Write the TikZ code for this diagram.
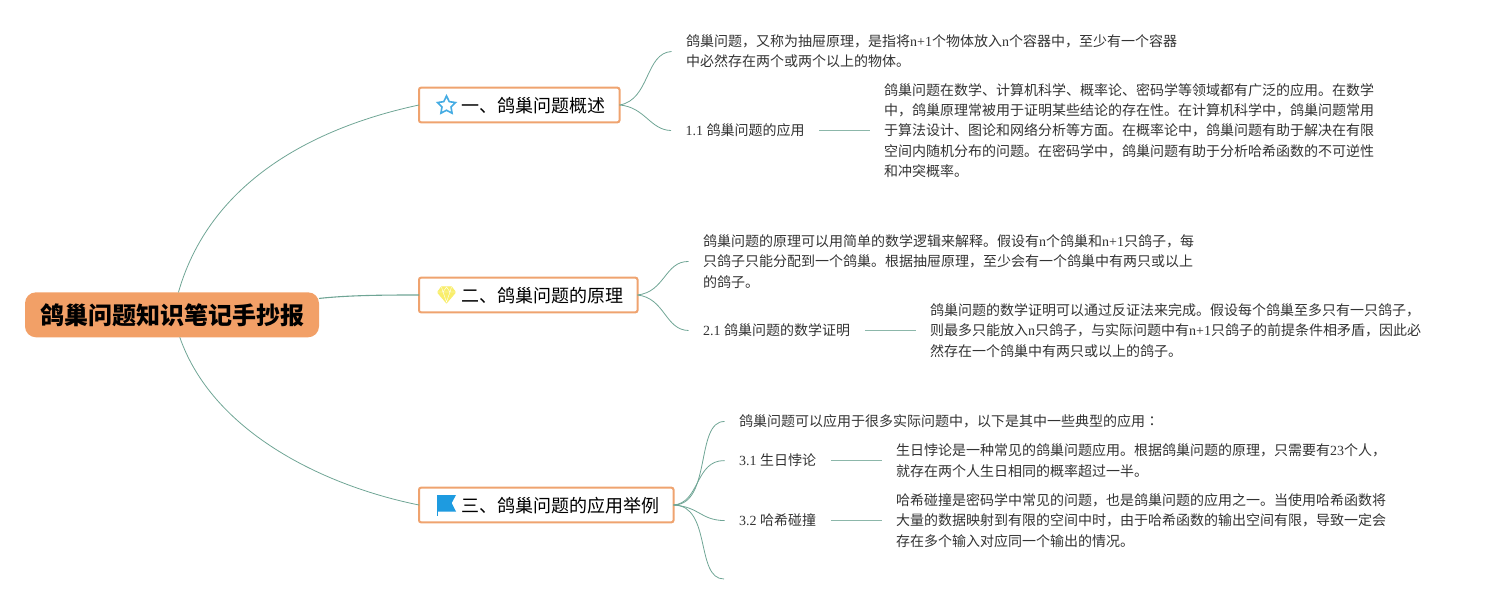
\documentclass[tikz,border=0pt]{standalone}
\usepackage{fontspec}
\setmainfont{Noto Sans CJK SC}
\newfontfamily\latnf{Liberation Serif}
\newfontfamily\tcf{Noto Sans CJK TC}
\newcommand{\latn}[1]{{\latnf #1}}
\usetikzlibrary{shapes.geometric}
\definecolor{linkc}{HTML}{6FA595}
\definecolor{orangec}{HTML}{F2A067}
\definecolor{edgec}{HTML}{EFA36F}
\definecolor{txtc}{HTML}{333333}
\definecolor{bluec}{HTML}{1E9BE0}
\definecolor{starc}{HTML}{45ACE3}
\definecolor{gemc}{HTML}{F9EE6B}
\tikzset{
  rootbox/.style={fill=orangec,draw=none,rounded corners=11pt,minimum width=294pt,minimum height=45pt,inner sep=0pt,outer sep=0pt,font=\fontsize{24}{28}\selectfont\bfseries,text=black},
  branchbox/.style={fill=white,draw=edgec,line width=2pt,rounded corners=2pt,anchor=west,minimum height=34.6pt,inner sep=0pt,outer sep=0pt,font=\fontsize{18}{22}\selectfont,text=black},
  leafbox/.style={anchor=west,inner xsep=14.5pt,inner ysep=0pt,align=left,text=txtc,font=\fontsize{14}{20.3}\selectfont},
  link/.style={draw=linkc,line width=0.8pt},
  stub/.style={draw=linkc!80,line width=1.1pt}
}
\newcommand{\branchtext}[1]{\hspace*{42pt}\raisebox{-7.6pt}[0pt][0pt]{#1}\hspace*{14.5pt}}
\begin{document}
\begin{tikzpicture}[x=1pt,y=-1pt]
\useasboundingbox (0,0) rectangle (1490,605);
\node[rootbox] (root) at (172,314.8) {\raisebox{-10pt}[0pt][0pt]{鸽巢问题知识笔记手抄报}};
\node[branchbox] (n1) at (419,105) {\branchtext{一、鸽巢问题概述}};
\node[branchbox] (n2) at (419,295) {\branchtext{二、鸽巢问题的原理}};
\node[branchbox] (n3) at (419,505) {\branchtext{三、鸽巢问题的应用举例}};

\node[leafbox] (a1) at (671.5,51.5) {鸽巢问题，又称为抽屉原理，是指将\latn{n+1}个物体放入\latn{n}个容器中，至少有一个容器\\中必然存在两个或两个以上的物体。};
\node[leafbox] (a2) at (671,130.5) {\latn{1.1 }鸽巢问题的应用};
\node[leafbox] (a3) at (869.5,130.5) {鸽巢问题在数学、计算机科学、概率论、密码学等领域都有广泛的应用。在数学\\中，鸽巢原理常被用于证明某些结论的存在性。在计算机科学中，鸽巢问题常用\\于算法设计、图论和网络分析等方面。在概率论中，鸽巢问题有助于解决在有限\\空间内随机分布的问题。在密码学中，鸽巢问题有助于分析哈希函数的不可逆性\\和冲突概率。};

\node[leafbox] (b1) at (688.5,261.5) {鸽巢问题的原理可以用简单的数学逻辑来解释。假设有\latn{n}个鸽巢和\latn{n+1}只鸽子，每\\只鸽子只能分配到一个鸽巢。根据抽屉原理，至少会有一个鸽巢中有两只或以上\\的鸽子。};
\node[leafbox] (b2) at (688.5,330.5) {\latn{2.1 }鸽巢问题的数学证明};
\node[leafbox] (b3) at (915.5,330.5) {鸽巢问题的数学证明可以通过反证法来完成。假设每个鸽巢至多只有一只鸽子，\\则最多只能放入\latn{n}只鸽子，与实际问题中有\latn{n+1}只鸽子的前提条件相矛盾，因此必\\然存在一个鸽巢中有两只或以上的鸽子。};

\node[leafbox] (c1) at (724.5,421.5) {鸽巢问题可以应用于很多实际问题中，以下是其中一些典型的应用{\tcf ：}};
\node[leafbox] (c2) at (724.5,460.6) {\latn{3.1 }生日悖论};
\node[leafbox] (c3) at (881.5,460.6) {生日悖论是一种常见的鸽巢问题应用。根据鸽巢问题的原理，只需要有\latn{23}个人，\\就存在两个人生日相同的概率超过一半。};
\node[leafbox] (c4) at (724.5,520.6) {\latn{3.2 }哈希碰撞};
\node[leafbox] (c5) at (881.5,520.6) {哈希碰撞是密码学中常见的问题，也是鸽巢问题的应用之一。当使用哈希函数将\\大量的数据映射到有限的空间中时，由于哈希函数的输出空间有限，导致一定会\\存在多个输入对应同一个输出的情况。};
\coordinate (c6) at (724,579);

% root connectors
\draw[link] (root) .. controls (212,175) and (325,125) .. (n1.west);
\draw[link,line width=1.1pt] (root) .. controls (350,295) and (390,295) .. (n2.west);
\draw[link] (root) .. controls (212,430) and (320,485) .. (n3.west);
% first-level
\draw[link] (n1.east) .. controls (650,100) and (645,53) .. (a1.west);
\draw[link] (n1.east) .. controls (645,107) and (650,130) .. (a2.west);
\draw[link] (n2.east) .. controls (665,292) and (665,261) .. (b1.west);
\draw[link] (n2.east) .. controls (665,298) and (665,330) .. (b2.west);
\draw[link] (n3.east) .. controls (712,505) and (695,421) .. (c1.west);
\draw[link] (n3.east) .. controls (700,503) and (695,460) .. (c2.west);
\draw[link] (n3.east) .. controls (700,507) and (700,520) .. (c4.west);
\draw[link] (n3.east) .. controls (712,505) and (695,579) .. (c6);
% stubs
\draw[stub] (a2.east) -- (a3.west);
\draw[stub] (b2.east) -- (b3.west);
\draw[stub] (c2.east) -- (c3.west);
\draw[stub] (c4.east) -- (c5.west);
% icons
\node[star,star points=5,star point ratio=2.0,draw=starc,line width=1.6pt,fill=white,minimum size=19pt,inner sep=0pt] (i1) at (446.5,105.5) {};
\fill[gemc,draw=gemc,line join=round,line width=0.8pt] (441.5,286.8) -- (451.5,286.8) -- (455,291.5) -- (455,293) -- (446.5,303) -- (438,293) -- (438,291.5) -- cycle;
\draw[white,line width=0.4pt] (438,292) -- (455,292) (441.5,287) -- (443,292) -- (446.5,302) -- (450,292) -- (451.5,287) (443,292) -- (446.5,287) -- (450,292);
\fill[bluec] (437,495) -- (456,495) -- (451.7,503) -- (456,511.5) -- (437,511.5) -- cycle;
\draw[bluec,line width=0.8pt] (437.2,495) -- (437.2,515.5);
\end{tikzpicture}
\end{document}
